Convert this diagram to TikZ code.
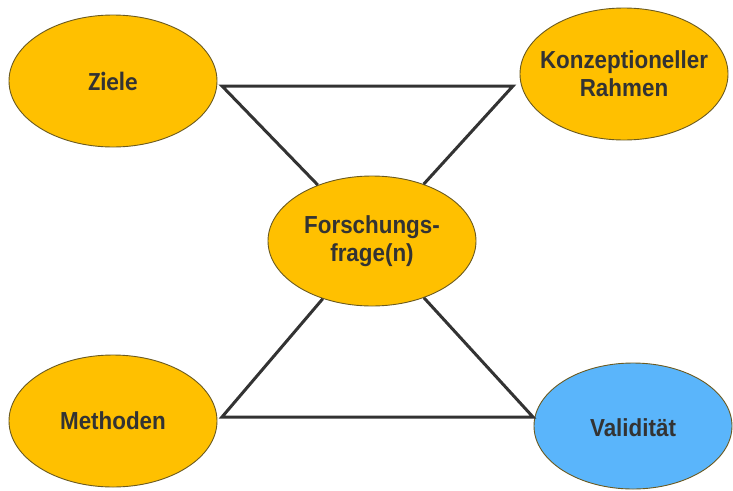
\documentclass[tikz,border=0pt]{standalone}
\usepackage{fontspec}
\setmainfont{Liberation Sans}
\newfontfamily\calfont{Carlito}
\usetikzlibrary{shapes.geometric}
\definecolor{ygold}{HTML}{FFC000}
\definecolor{vblue}{HTML}{5AB5FB}
\definecolor{edgebrown}{HTML}{6B5A20}
\definecolor{txtgray}{HTML}{333333}
\definecolor{linegray}{HTML}{333333}
\tikzset{
  bubble/.style={ellipse, draw=edgebrown, line width=0.9pt, fill=ygold,
    minimum width=208pt, minimum height=132pt, inner sep=0pt},
  bluebubble/.style={bubble, fill=vblue, minimum width=198pt, minimum height=126pt},
  label text/.style={align=center, inner sep=0pt, text=txtgray, yscale=1.1, transform shape,
    font=\bfseries\fontsize{22.4}{25.5}\selectfont},
  link/.style={draw=linegray, line width=3pt, miter limit=10, line join=miter}
}
\begin{document}
\begin{tikzpicture}[x=1pt,y=-1pt]
\useasboundingbox (0,0) rectangle (733,490);
\node[bubble] (Z) at (113,81) {};
\node[bubble] (K) at (624,74) {};
\node[bubble, minimum height=130pt] (F) at (372,241) {};
\node[bubble] (M) at (113,421) {};
\node[bluebubble] (V) at (633,426) {};
\node[label text, font=\calfont\bfseries\fontsize{25}{30}\selectfont, yscale=0.95] (ZT) at (Z.center) {Ziele};
\node[label text] (KT) at (K.center) {Konzeptioneller\\Rahmen};
\node[label text] (FT) at (F.center) {Forschungs-\\frage(n)};
\node[label text] (MT) at (M.center) {Methoden};
\node[label text] (VT) at ([yshift=-2pt]V.center) {Validität};
\coordinate (cZ) at (222,86);
\coordinate (cK) at (513,86);
\coordinate (cM) at (222,417);
\coordinate (cV) at (533,417);
\draw[link] (F) -- (cZ) -- (cK) -- (F);
\draw[link] (F) -- (cM) -- (cV) -- (F);
\end{tikzpicture}
\end{document}
